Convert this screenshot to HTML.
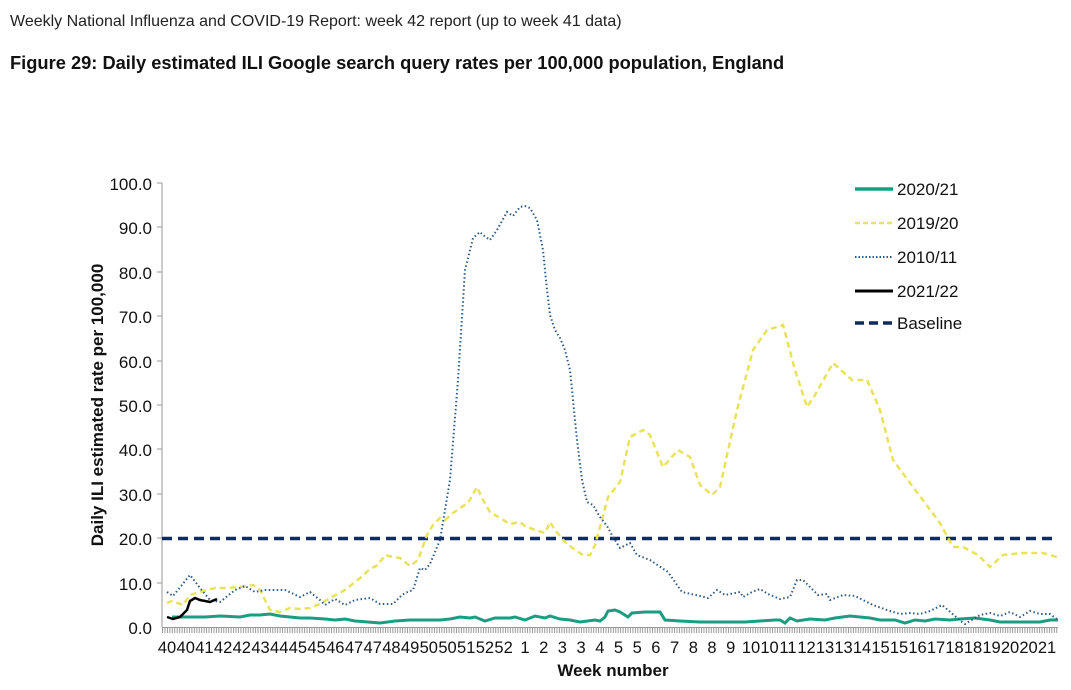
<!DOCTYPE html>
<html><head><meta charset="utf-8"><style>
body{margin:0;background:#fff;width:1071px;height:685px;overflow:hidden;font-family:"Liberation Sans",Arial,sans-serif}
</style></head><body>
<svg width="1071" height="685" xmlns="http://www.w3.org/2000/svg" font-family="Liberation Sans, Arial, sans-serif">
<defs><pattern id="tk" x="162" y="627" width="2.45" height="6" patternUnits="userSpaceOnUse"><line x1="0.5" y1="0" x2="0.5" y2="6" stroke="#999" stroke-width="1"/></pattern></defs>
<text x="10" y="26" font-size="16" fill="#222">Weekly National Influenza and COVID-19 Report: week 42 report (up to week 41 data)</text>
<text x="10" y="69" font-size="18.3" font-weight="bold" fill="#111">Figure 29: Daily estimated ILI Google search query rates per 100,000 population, England</text>
<line x1="162" y1="183" x2="162" y2="627" stroke="#999"/>
<rect x="162" y="627" width="896" height="6" fill="url(#tk)"/>
<line x1="162" y1="627.5" x2="1058" y2="627.5" stroke="#999"/>
<g stroke="#999"><line x1="157" y1="183" x2="162" y2="183"/><line x1="157" y1="227" x2="162" y2="227"/><line x1="157" y1="272" x2="162" y2="272"/><line x1="157" y1="316" x2="162" y2="316"/><line x1="157" y1="361" x2="162" y2="361"/><line x1="157" y1="405" x2="162" y2="405"/><line x1="157" y1="449" x2="162" y2="449"/><line x1="157" y1="494" x2="162" y2="494"/><line x1="157" y1="538" x2="162" y2="538"/><line x1="157" y1="583" x2="162" y2="583"/></g>
<g font-size="17" fill="#111" text-anchor="end">
<text x="152" y="190">100.0</text><text x="152" y="234">90.0</text><text x="152" y="279">80.0</text><text x="152" y="323">70.0</text><text x="152" y="368">60.0</text><text x="152" y="412">50.0</text><text x="152" y="456">40.0</text><text x="152" y="501">30.0</text><text x="152" y="545">20.0</text><text x="152" y="590">10.0</text><text x="152" y="634">0.0</text>
</g>
<text transform="translate(103,405) rotate(-90)" font-size="17" font-weight="bold" text-anchor="middle" fill="#111">Daily ILI estimated rate per 100,000</text>
<text x="613" y="676" font-size="17" font-weight="bold" text-anchor="middle" fill="#111">Week number</text>
<line x1="162" y1="538.5" x2="1058" y2="538.5" stroke="#0d2b5e" stroke-width="3.5" stroke-dasharray="10,6"/>
<polyline fill="none" stroke="#1a9e82" stroke-width="3" points="172,617 190,617 205,617 220,616 240,617 250,615 260,615 270,614 280,616 300,618 310,618 325,619 335,620 345,619 355,621 368,622 380,623 395,621 410,620 420,620 440,620 450,619 460,617 470,618 475,617 485,621 495,618 510,618 515,617 525,620 535,616 545,618 550,616 560,619 570,620 580,622 595,620 600,621 605,617 608,611 615,610 620,612 628,617 632,613 645,612 660,612 665,620 680,621 700,622 715,622 735,622 745,622 760,621 775,620 780,620 785,623 790,618 797,621 810,619 825,620 835,618 850,616 870,618 880,620 895,620 905,623 915,620 925,621 935,619 950,620 960,619 975,618 990,620 1000,622 1020,622 1040,622 1050,620 1058,620"/>
<polyline fill="none" stroke="#e8e35a" stroke-width="2.5" stroke-dasharray="6,4" points="167,603 172,601 183,605 190,595 200,592 215,588 225,588 240,587 253,585 260,590 270,610 280,612 290,608 300,609 310,608 320,604 330,598 345,590 360,578 370,569 378,565 385,555 393,557 400,558 410,566 418,560 427,535 433,525 440,518 445,520 453,513 460,508 468,503 477,487 483,500 490,512 500,518 510,524 520,522 525,526 535,530 545,533 550,522 555,530 565,542 575,550 583,555 590,555 595,545 602,520 608,497 620,482 630,437 643,430 650,435 663,467 678,450 690,457 700,485 712,495 720,487 737,410 753,350 767,330 783,325 795,370 807,407 815,395 833,363 852,380 867,380 880,410 893,460 913,487 940,523 953,547 963,547 978,555 990,567 1003,555 1023,553 1043,553 1057,557"/>
<polyline fill="none" stroke="#2f5b86" stroke-width="2" stroke-dasharray="1.5,2.5" points="167,592 173,596 190,575 200,588 210,600 220,602 235,590 245,586 255,592 265,590 285,590 300,597 310,592 320,600 325,605 335,599 345,605 355,600 370,598 380,604 393,604 400,597 405,593 413,590 420,568 425,570 430,564 440,540 450,480 458,380 465,270 473,238 480,232 483,235 490,240 497,230 507,212 513,216 520,207 525,206 530,208 537,220 543,250 547,290 550,315 555,330 560,338 565,350 570,370 573,400 577,440 582,480 587,502 593,505 600,517 607,526 613,537 620,548 630,543 637,555 650,560 668,572 682,592 700,596 708,598 717,590 725,595 740,592 743,597 752,592 760,589 768,594 780,599 790,597 797,580 803,580 818,595 827,594 830,600 843,595 855,596 873,605 887,610 900,614 910,613 920,614 930,611 942,605 955,616 962,622 965,624 980,615 990,613 1000,616 1010,612 1020,617 1030,611 1040,614 1050,614 1058,620"/>
<polyline fill="none" stroke="#000" stroke-width="2.5" points="167,617 173,619 180,617 187,610 190,601 195,598 200,600 210,602 217,599"/>
<line x1="855" y1="189" x2="893" y2="189" stroke="#1a9e82" stroke-width="3.5"/>
<line x1="855" y1="223" x2="893" y2="223" stroke="#e8e35a" stroke-width="2.5" stroke-dasharray="5,3"/>
<line x1="855" y1="257" x2="893" y2="257" stroke="#2f5b86" stroke-width="2" stroke-dasharray="1.5,2"/>
<line x1="855" y1="291" x2="893" y2="291" stroke="#000" stroke-width="3"/>
<line x1="855" y1="323" x2="893" y2="323" stroke="#0d2b5e" stroke-width="3.5" stroke-dasharray="9,5"/>
<g font-size="17" fill="#111"><text x="897" y="195">2020/21</text><text x="897" y="229">2019/20</text><text x="897" y="263">2010/11</text><text x="897" y="297">2021/22</text><text x="897" y="329">Baseline</text></g>
<g font-size="16.5" fill="#111" text-anchor="middle">
<text x="167" y="653">40</text><text x="185.7" y="653">40</text><text x="204.4" y="653">41</text><text x="223.1" y="653">42</text><text x="241.8" y="653">42</text><text x="260.5" y="653">43</text><text x="279.2" y="653">44</text><text x="297.9" y="653">45</text><text x="316.6" y="653">45</text><text x="335.3" y="653">46</text><text x="354" y="653">47</text><text x="372.7" y="653">47</text><text x="391.4" y="653">48</text><text x="410.1" y="653">49</text><text x="428.8" y="653">50</text><text x="447.5" y="653">50</text><text x="466.2" y="653">51</text><text x="484.9" y="653">52</text><text x="503.6" y="653">52</text>
<text x="525" y="653">1</text><text x="543.7" y="653">2</text><text x="562.4" y="653">3</text><text x="581.1" y="653">3</text><text x="599.8" y="653">4</text><text x="618.5" y="653">5</text><text x="637.2" y="653">5</text><text x="655.9" y="653">6</text><text x="674.6" y="653">7</text><text x="693.3" y="653">8</text><text x="712" y="653">8</text><text x="730.7" y="653">9</text>
<text x="751" y="653">10</text><text x="769.5" y="653">10</text><text x="788" y="653">11</text><text x="806.5" y="653">12</text><text x="825" y="653">13</text><text x="843.5" y="653">13</text><text x="862" y="653">14</text><text x="880.5" y="653">15</text><text x="899" y="653">15</text><text x="917.5" y="653">16</text><text x="936" y="653">17</text><text x="954.5" y="653">18</text><text x="973" y="653">18</text><text x="991.5" y="653">19</text><text x="1010" y="653">20</text><text x="1028.5" y="653">20</text><text x="1047" y="653">21</text>
</g>
</svg>
</body></html>
